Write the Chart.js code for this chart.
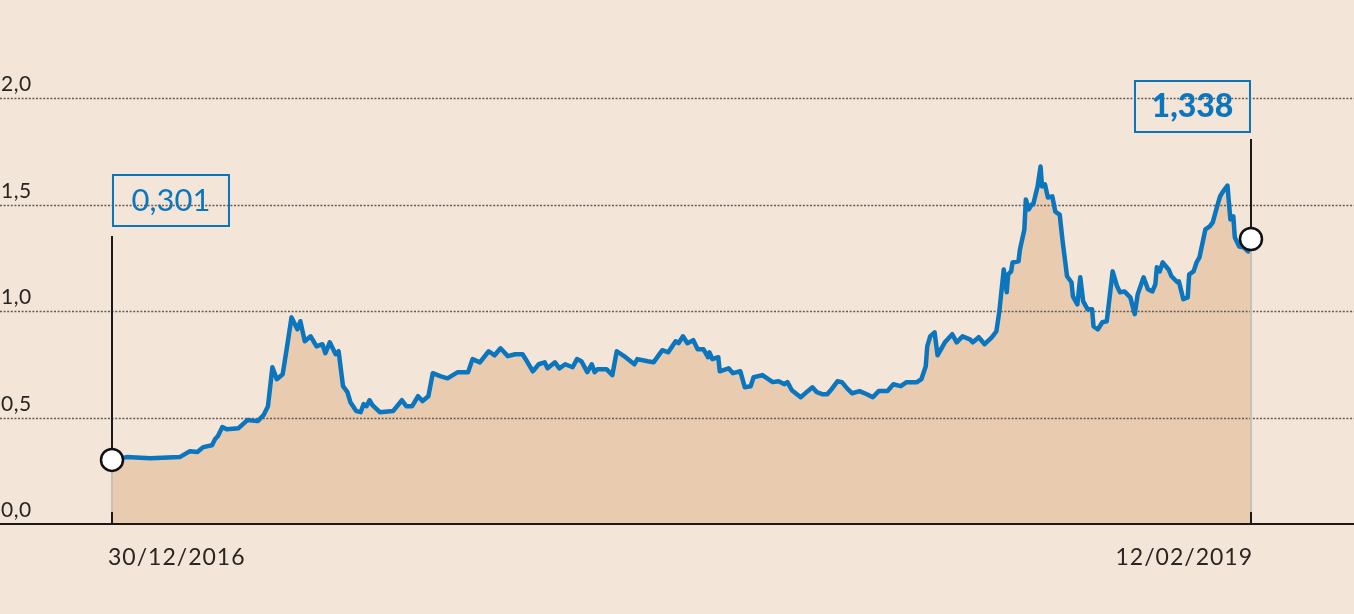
<!DOCTYPE html>
<html>
<head>
<meta charset="utf-8">
<script src="https://cdn.jsdelivr.net/npm/chart.js@4"></script>
<style>
  html, body { margin: 0; padding: 0; background: #f3e5d7; }
  canvas { display: block; }
</style>
</head>
<body>
<canvas id="chart" width="1354" height="614"></canvas>
<script>
// ---- data ----
// days since 30/12/2016
const days = [0,10,26,46,53,58,62,68,70,72,75,78,86,92,99,103,106,109,112,116,119,122,126,128,131,135,139,143,145,148,152,154,157,160,162,166,169,171,173,175,177,182,191,197,200,204,208,211,215,218,223,228,235,242,245,250,256,260,264,269,274,279,282,286,290,294,296,301,304,308,313,316,319,323,326,328,330,336,340,343,349,355,357,364,368,374,378,383,385,388,391,395,398,402,405,406,408,412,413,419,422,427,430,434,436,442,449,453,457,459,462,468,472,476,479,483,486,489,493,496,500,503,508,513,517,521,527,531,536,540,547,550,553,554,556,559,561,566,571,574,578,583,585,589,593,598,601,603,606,608,609,611,612,616,617,620,621,623,625,626,629,631,632,634,636,639,641,644,646,649,652,653,656,658,660,663,666,667,670,673,676,680,683,685,688,692,695,697,701,704,707,709,710,712,714,718,720,724,725,728,731,732,735,737,739,743,746,748,751,753,755,758,760,762,763,766,769,772,774];
const values = [0.301,0.314,0.309,0.314,0.342,0.338,0.361,0.370,0.398,0.413,0.455,0.445,0.450,0.488,0.483,0.511,0.553,0.736,0.680,0.703,0.834,0.970,0.914,0.952,0.858,0.881,0.834,0.844,0.802,0.853,0.797,0.811,0.647,0.619,0.572,0.530,0.525,0.563,0.553,0.581,0.558,0.525,0.530,0.581,0.553,0.553,0.600,0.577,0.600,0.708,0.694,0.684,0.713,0.713,0.774,0.759,0.811,0.792,0.825,0.788,0.797,0.797,0.764,0.717,0.750,0.759,0.731,0.759,0.731,0.750,0.736,0.774,0.764,0.713,0.750,0.713,0.727,0.727,0.699,0.811,0.783,0.750,0.774,0.764,0.759,0.816,0.806,0.858,0.849,0.881,0.849,0.863,0.820,0.820,0.783,0.806,0.774,0.783,0.717,0.731,0.708,0.717,0.642,0.647,0.689,0.699,0.666,0.670,0.656,0.666,0.628,0.595,0.619,0.642,0.619,0.609,0.609,0.633,0.670,0.666,0.633,0.614,0.624,0.609,0.595,0.624,0.624,0.656,0.647,0.666,0.666,0.680,0.741,0.834,0.881,0.900,0.792,0.853,0.891,0.853,0.881,0.867,0.853,0.877,0.844,0.877,0.905,0.999,1.195,1.088,1.172,1.186,1.228,1.233,1.289,1.383,1.524,1.477,1.500,1.500,1.585,1.678,1.585,1.594,1.533,1.538,1.467,1.453,1.327,1.163,1.135,1.069,1.031,1.158,1.045,1.008,1.008,0.928,0.914,0.947,0.952,1.186,1.116,1.088,1.092,1.064,0.985,1.078,1.158,1.102,1.092,1.125,1.205,1.186,1.228,1.195,1.163,1.135,1.139,1.055,1.064,1.172,1.186,1.228,1.252,1.383,1.397,1.416,1.491,1.538,1.561,1.589,1.430,1.444,1.346,1.303,1.299,1.280,1.338];
const yTicks = [0, 0.5, 1.0, 1.5, 2.0];
const xLabels = ['30/12/2016', '12/02/2019'];

const BLUE = '#0b76bd';
const last = values.length - 1;
const fmt = v => v.toFixed(3).replace('.', ',');

// grid, axis, marker stems, labels
const decor = {
  id: 'decor',
  beforeDatasetsDraw(chart) {
    const { ctx, scales: { x, y } } = chart;
    const W = chart.width;
    ctx.save();
    // dotted grid lines
    ctx.strokeStyle = '#675c55';
    ctx.lineWidth = 1.6;
    ctx.setLineDash([2, 1.6]);
    yTicks.slice(1).forEach(t => {
      const py = Math.round(y.getPixelForValue(t)) + 0.5;
      ctx.beginPath(); ctx.moveTo(0, py); ctx.lineTo(W, py); ctx.stroke();
    });
    ctx.setLineDash([]);

    // marker stems
    const base = y.getPixelForValue(0);
    [[0, 236], [last, 139]].forEach(([i, top]) => {
      const px = Math.round(x.getPixelForValue(days[i]));
      const py = y.getPixelForValue(values[i]);
      ctx.strokeStyle = '#c9c1b9';
      ctx.lineWidth = 2;
      ctx.beginPath(); ctx.moveTo(px, py); ctx.lineTo(px, base - 12); ctx.stroke();
      ctx.strokeStyle = '#1a1a1a';
      ctx.beginPath(); ctx.moveTo(px, top); ctx.lineTo(px, py); ctx.stroke();
      ctx.beginPath(); ctx.moveTo(px, base - 12); ctx.lineTo(px, base); ctx.stroke();
    });
    ctx.restore();
  },
  afterDraw(chart) {
    const { ctx, scales: { x, y } } = chart;
    const W = chart.width;
    ctx.save();
    // baseline
    const base = Math.round(y.getPixelForValue(0));
    ctx.strokeStyle = '#1a1a1a';
    ctx.lineWidth = 2;
    ctx.beginPath(); ctx.moveTo(0, base); ctx.lineTo(W, base); ctx.stroke();

    // y labels, sitting above their lines
    ctx.fillStyle = '#2a2522';
    ctx.font = '21px Lato';
    ctx.letterSpacing = '0.5px';
    ctx.textAlign = 'left';
    ctx.textBaseline = 'alphabetic';
    yTicks.forEach(t => {
      ctx.fillText(t.toFixed(1).replace('.', ','), 1, y.getPixelForValue(t) - 7);
    });

    // x labels
    ctx.font = '23px Lato';
    ctx.letterSpacing = '1px';
    const x0 = x.getPixelForValue(days[0]);
    const x1 = x.getPixelForValue(days[last]);
    ctx.textAlign = 'left';
    ctx.fillText(xLabels[0], x0 - 4, 565);
    ctx.textAlign = 'right';
    ctx.fillText(xLabels[1], x1 + 2, 565);
    ctx.letterSpacing = '0px';

    // value boxes
    const boxes = [
      { i: 0, left: x0, top: 174, w: 118, h: 53, bold: false },
      { i: last, left: x1 - 117, top: 80, w: 117, h: 53, bold: true }
    ];
    boxes.forEach(b => {
      ctx.strokeStyle = BLUE;
      ctx.lineWidth = 2;
      ctx.strokeRect(b.left + 1, b.top + 1, b.w - 2, b.h - 2);
      ctx.fillStyle = BLUE;
      ctx.font = b.bold ? '900 32px Lato' : '31px Lato';
      ctx.textAlign = 'center';
      ctx.textBaseline = 'middle';
      ctx.fillText(fmt(values[b.i]), b.left + b.w / 2, b.top + b.h / 2);
    });
    ctx.restore();
  }
};

const pointRadius = values.map((v, i) => (i === 0 || i === last) ? 11 : 0);

new Chart(document.getElementById('chart'), {
  type: 'line',
  data: {
    datasets: [{
      data: days.map((d, i) => ({ x: d, y: values[i] })),
      borderColor: BLUE,
      borderWidth: 4.5,
      borderJoinStyle: 'round',
      borderCapStyle: 'round',
      backgroundColor: '#e9cbb0',
      fill: 'origin',
      tension: 0,
      pointRadius: pointRadius,
      pointBackgroundColor: '#ffffff',
      pointBorderColor: '#111111',
      pointBorderWidth: 2.5,
      clip: false
    }]
  },
  options: {
    responsive: false,
    animation: false,
    events: [],
    layout: { autoPadding: false, padding: { top: 98, bottom: 90, left: 0, right: 0 } },
    scales: {
      x: { type: 'linear', min: -76.1, max: 844.0, display: false },
      y: { min: 0, max: 2, display: false }
    },
    plugins: {
      legend: { display: false },
      tooltip: { enabled: false },
      filler: { drawTime: 'beforeDatasetsDraw' }
    }
  },
  plugins: [decor]
});
</script>
</body>
</html>
